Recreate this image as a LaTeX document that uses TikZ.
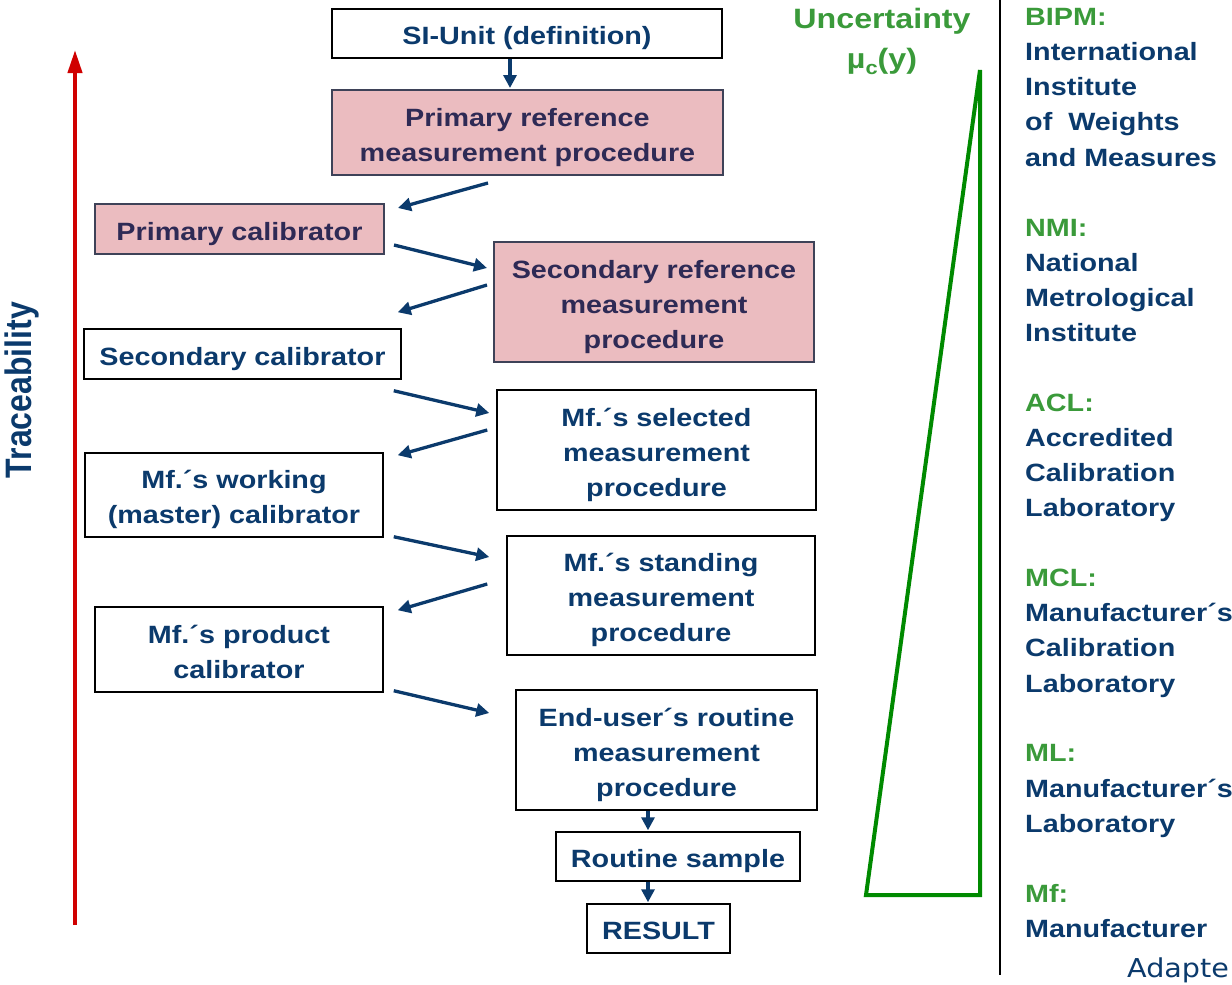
\documentclass[tikz,border=0pt]{standalone}
\usepackage{fontspec}
\setmainfont{Liberation Sans}[FakeStretch=1.15]
\newfontfamily\plainsans{Liberation Sans}
\newfontfamily\adaptfont{DejaVu Sans}[FakeStretch=1.1]
\usetikzlibrary{arrows.meta,calc}
\definecolor{navy}{HTML}{0B3A6C}
\definecolor{purpnavy}{HTML}{2E2A55}
\definecolor{pinkfill}{HTML}{EBBCC0}
\definecolor{pinkborder}{HTML}{3E4258}
\definecolor{lgreen}{HTML}{3A9A3A}
\definecolor{dgreen}{HTML}{008A00}
\definecolor{tred}{HTML}{D00000}
\newcommand{\boxtext}[1]{\raisebox{-4pt}[\height][\depth]{\begin{tabular}{@{}c@{}}#1\end{tabular}}}
\begin{document}
\begin{tikzpicture}[x=1pt,y=-1pt,
  txt/.style={font=\fontsize{25}{35}\selectfont\bfseries, align=center, inner sep=0pt},
  wbox/.style={txt, draw=black, line width=1.5pt, fill=white, text=navy},
  pbox/.style={txt, draw=pinkborder, line width=2pt, fill=pinkfill, text=purpnavy},
  arr/.style={draw=navy, line width=3.3pt, -{Triangle[length=13pt,width=13pt]}},
  rlab/.style={anchor=base west, inner sep=0pt, font=\fontsize{25}{35}\selectfont\bfseries, text=navy},
  glab/.style={rlab, text=lgreen}]
\useasboundingbox (0,0) rectangle (1232,985);

% boxes
\node[wbox, minimum width=390pt, minimum height=49pt] (si) at (527,33.5) {\boxtext{SI-Unit (definition)}};
\node[pbox, minimum width=391pt, minimum height=85pt] (primref) at (527.5,132.5) {\boxtext{Primary reference\\measurement procedure}};
\node[pbox, minimum width=289pt, minimum height=50pt] (pcal) at (239.5,229) {\boxtext{Primary calibrator}};
\node[pbox, minimum width=320pt, minimum height=120pt] (secref) at (654,302) {\boxtext{Secondary reference\\measurement\\procedure}};
\node[wbox, minimum width=317pt, minimum height=50pt] (scal) at (242.5,354) {\boxtext{Secondary calibrator}};
\node[wbox, minimum width=319pt, minimum height=120pt] (sel) at (656.5,450) {\boxtext{Mf.´s selected\\measurement\\procedure}};
\node[wbox, minimum width=298pt, minimum height=84pt] (work) at (234,495) {\boxtext{Mf.´s working\\(master) calibrator}};
\node[wbox, minimum width=308pt, minimum height=119pt] (stand) at (661,595.5) {\boxtext{Mf.´s standing\\measurement\\procedure}};
\node[wbox, minimum width=288pt, minimum height=85pt] (prod) at (239,649.5) {\boxtext{Mf.´s product\\calibrator}};
\node[wbox, minimum width=301pt, minimum height=120pt] (enduser) at (666.5,750) {\boxtext{End-user´s routine\\measurement\\procedure}};
\node[wbox, minimum width=244pt, minimum height=49pt] (rs) at (678,856.5) {\boxtext{Routine sample}};
\node[wbox, minimum width=143pt, minimum height=49pt] (res) at (658.5,928.5) {\boxtext{RESULT}};

% connectors
\draw[arr] ($(si.south)+(-17,0)$) -- ($(primref.north)+(-17.5,-1)$);
\draw[arr] ($(primref.south)+(-39.5,7)$) -- ($(pcal.east)+(13,-21)$);
\draw[arr] ($(pcal.east)+(9,16)$) -- ($(secref.west)+(-6,-34)$);
\draw[arr] ($(secref.west)+(-6,-17)$) -- ($(scal.north east)+(-4,-16)$);
\draw[arr] ($(scal.south east)+(-8,11)$) -- ($(sel.west)+(-7,-37)$);
\draw[arr] ($(sel.west)+(-9,-20)$) -- ($(work.north east)+(14,3)$);
\draw[arr] ($(work.south east)+(10,-1)$) -- ($(stand.west)+(-17,-38.5)$);
\draw[arr] ($(stand.west)+(-19,-11.5)$) -- ($(prod.north east)+(14,4)$);
\draw[arr] ($(prod.south east)+(10,-2)$) -- ($(enduser.west)+(-26,-37)$);
\draw[arr] ($(enduser.south)+(-18.5,0)$) -- ($(rs.north)+(-30,-1)$);
\draw[arr] ($(rs.south)+(-30,0)$) -- ($(res.north)+(-10.5,-1)$);

% traceability arrow
\coordinate (tb) at (75,925);
\coordinate (tt) at (75,50);
\draw[tred, line width=4pt, -{Triangle[length=23pt,width=14pt]}] (tb) -- (tt);
\node[rotate=90, inner sep=0pt, text=navy, font=\plainsans\fontsize{32}{38}\selectfont\bfseries] (trace) at (22,390) {\scalebox{1}[1.15]{Traceability}};

% uncertainty
\node[inner sep=0pt, text=lgreen, font=\fontsize{28}{34}\selectfont\bfseries] (unc) at (882,21) {Uncertainty};
\node[inner sep=0pt, text=lgreen, font=\fontsize{28}{34}\selectfont\bfseries] (mu) at (882,61) {µ\raisebox{-6pt}{\fontsize{19}{19}\selectfont c}(y)};
\draw[dgreen, line width=4pt, line join=miter] (866,895) -- (980,895) -- (980,70) -- cycle;

% separator
\draw[black, line width=1.5pt] (1000,0) -- (1000,975);

% right-hand legend
\node[glab] (l1) at (1025,25) {BIPM:};
\node[rlab] (l2) at (1025,60) {International};
\node[rlab] (l3) at (1025,95) {Institute};
\node[rlab] (l4) at (1025,130) {of~~Weights};
\node[rlab] (l5) at (1025,166) {and Measures};
\node[glab] (l6) at (1025,236) {NMI:};
\node[rlab] (l7) at (1025,271) {National};
\node[rlab] (l8) at (1025,306) {Metrological};
\node[rlab] (l9) at (1025,341) {Institute};
\node[glab] (l10) at (1025,411) {ACL:};
\node[rlab] (l11) at (1025,446) {Accredited};
\node[rlab] (l12) at (1025,481) {Calibration};
\node[rlab] (l13) at (1025,516) {Laboratory};
\node[glab] (l14) at (1025,586) {MCL:};
\node[rlab] (l15) at (1025,621) {Manufacturer´s};
\node[rlab] (l16) at (1025,656) {Calibration};
\node[rlab] (l17) at (1025,692) {Laboratory};
\node[glab] (l18) at (1025,761) {ML:};
\node[rlab] (l19) at (1025,797) {Manufacturer´s};
\node[rlab] (l20) at (1025,832) {Laboratory};
\node[glab] (l21) at (1025,902) {Mf:};
\node[rlab] (l22) at (1025,937) {Manufacturer};
\node[anchor=base west, inner sep=0pt, text=navy, font=\adaptfont\fontsize{26}{30}\selectfont] (adapt) at (1127,977) {Adapte};
\end{tikzpicture}
\end{document}
